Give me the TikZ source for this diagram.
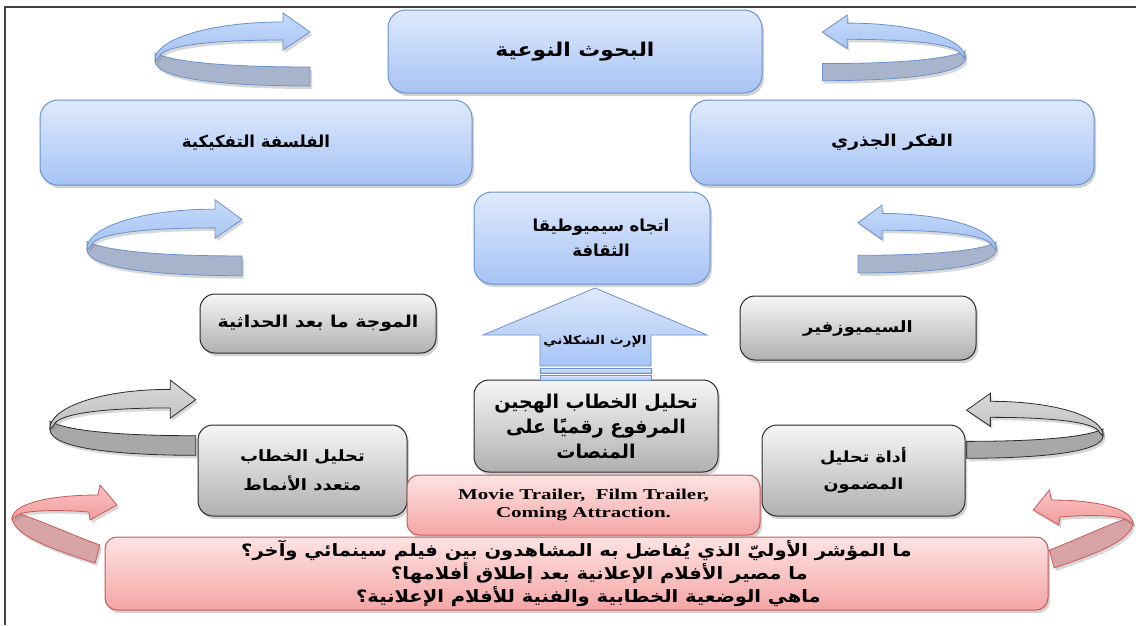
\documentclass[tikz,border=0pt]{standalone}
\usepackage{fontspec}
\setmainfont{Liberation Serif}[FakeStretch=1.4]
\newfontfamily\arabicfont[Script=Arabic]{DejaVu Sans}
\newfontfamily\arabicwide[Script=Arabic,FakeStretch=1.15]{DejaVu Sans}
\TeXXeTstate=1
\usetikzlibrary{shadows}
\definecolor{bluebd}{HTML}{6B92CC}
\definecolor{bluetop}{HTML}{DFE9FC}
\definecolor{bluebot}{HTML}{A6C4F5}
\definecolor{graybd}{HTML}{2B2B2B}
\definecolor{graytop}{HTML}{F6F6F6}
\definecolor{graybot}{HTML}{B0B0B0}
\definecolor{pinkbd}{HTML}{C85A5A}
\definecolor{pinktop}{HTML}{FDE3E3}
\definecolor{pinkbot}{HTML}{F5A5A5}
\definecolor{rblue1}{HTML}{C6DAFA}
\definecolor{rblue2}{HTML}{A3C1F3}
\definecolor{rbluedark}{HTML}{A7B4CB}
\definecolor{rgray1}{HTML}{DADADA}
\definecolor{rgray2}{HTML}{BDBDBD}
\definecolor{rgraydark}{HTML}{A8A8A8}
\definecolor{rpink1}{HTML}{FAC4C4}
\definecolor{rpink2}{HTML}{F29C9C}
\definecolor{rpinkdark}{HTML}{D7A3A6}
\definecolor{framecol}{HTML}{404040}
\newcommand\arsize[1]{\arabicwide\bfseries\fontsize{#1}{25}\selectfont}
\newcommand\arplain[1]{\arabicfont\bfseries\fontsize{#1}{25}\selectfont}
\begin{document}
\begin{tikzpicture}[x=1pt,y=-1pt,
  boxbase/.style={line width=1pt, inner sep=0pt, align=center,
    drop shadow={opacity=0.35, shadow xshift=2pt, shadow yshift=-3pt}},
  bluebox/.style={boxbase, draw=bluebd, rounded corners=18pt, top color=bluetop, bottom color=bluebot},
  graybox/.style={boxbase, draw=graybd, rounded corners=15pt, top color=graytop, bottom color=graybot},
  pinkbox/.style={boxbase, draw=pinkbd, rounded corners=12pt, top color=pinktop, bottom color=pinkbot},
  ribshadow/.style={drop shadow={opacity=0.3, shadow xshift=2pt, shadow yshift=-3pt}},
  blue ribbon/.style={rlight/.style={draw=bluebd, line width=0.8pt, top color=rblue1, bottom color=rblue2, ribshadow},
                      rdark/.style={draw=bluebd, line width=0.8pt, fill=rbluedark, ribshadow}},
  gray ribbon/.style={rlight/.style={draw=graybd, line width=0.8pt, top color=rgray1, bottom color=rgray2, ribshadow},
                      rdark/.style={draw=graybd, line width=0.8pt, fill=rgraydark, ribshadow}},
  pink ribbon/.style={rlight/.style={draw=pinkbd, line width=0.8pt, top color=rpink1, bottom color=rpink2, ribshadow},
                      rdark/.style={draw=pinkbd, line width=0.8pt, fill=rpinkdark, ribshadow}},
  ribbon/.pic={
    \path[rdark] (0,10) .. controls (20,20) and (80,24) .. (155,24) -- (155,43) .. controls (70,43) and (0,36) .. (0,18) -- cycle;
    \path[rlight] (0,18) .. controls (-2,-2) and (50,-21) .. (128,-21) -- (128,-30) -- (155,-11) -- (128,7) -- (128,-3) .. controls (60,-3) and (8,2) .. (4,14) -- cycle;
  },
  pribbon/.pic={
    \path[rdark] (5,6) .. controls (30,14) and (65,30) .. (88,38) -- (83,56) .. controls (50,45) and (0,30) .. (0,10) -- cycle;
    \path[rlight] (0,12) .. controls (0,-4) and (40,-12) .. (86,-12) -- (88,-22) -- (105,-2) -- (78,13) -- (77,5) .. controls (40,2) and (12,4) .. (6,8) -- cycle;
  },
  uparrowstyle/.style={draw=bluebd, line width=0.8pt, top color=bluetop, bottom color=bluebot}
]
\useasboundingbox (0,0) rectangle (1136,625);
\fill[white] (0,0) rectangle (1136,625);
\draw[framecol, line width=1.4pt] (5,625) -- (5,7) -- (1136,7);

% curved ribbon arrows
\pic[blue ribbon] at (155,43) {ribbon};
\pic[blue ribbon, xscale=-0.92, yscale=0.9] at (965,42) {ribbon};
\pic[blue ribbon, yscale=1.04] at (87,231) {ribbon};
\pic[blue ribbon, xscale=-0.89, yscale=0.93] at (996,233) {ribbon};
\pic[gray ribbon, xscale=0.94, yscale=1.03] at (50,411) {ribbon};
\pic[gray ribbon, xscale=-0.88, yscale=0.89] at (1103,420) {ribbon};
\pic[pink ribbon] at (12,507) {pribbon};
\pic[pink ribbon, xscale=-0.95] at (1133,512) {pribbon};

% blue boxes
\node[bluebox, minimum width=374pt, minimum height=83pt, font=\arsize{19}] (b1) at (575,51.5) {\beginR البحوث النوعية\endR};
\node[bluebox, minimum width=432pt, minimum height=85pt, font=\arplain{16.5}] (b2) at (256,142.5) {\beginR الفلسفة التفكيكية\endR};
\node[bluebox, minimum width=404pt, minimum height=85pt, font=\arsize{16.3}] (b3) at (892,142.5) {\beginR الفكر الجذري\endR};
\node[bluebox, minimum width=236pt, minimum height=92pt, font=\arplain{16.5}] (b4) at (592,238)
  {\hspace*{18pt}\beginR اتجاه سيميوطيقا\endR\\\hspace*{18pt}\beginR الثقافة\endR};

% gray boxes
\node[graybox, minimum width=236pt, minimum height=59pt, font=\arsize{16.4}] (g5) at (318,323.5) {\beginR الموجة ما بعد الحداثية\endR};
\node[graybox, minimum width=236pt, minimum height=64pt, font=\arsize{15.6}] (g6) at (858,328) {\beginR السيميوزفير\endR};
\node[graybox, minimum width=244pt, minimum height=92pt, font=\arplain{19}] (g8) at (596,426)
  {\beginR تحليل الخطاب الهجين\endR\\\beginR المرفوع رقميًا على\endR\\\beginR المنصات\endR};
\node[graybox, minimum width=209pt, minimum height=91pt, font=\arabicwide\bfseries\fontsize{15.6}{29}\selectfont] (g9) at (302.5,470.5) {\beginR تحليل الخطاب\endR\\\beginR متعدد الأنماط\endR};
\node[graybox, minimum width=203pt, minimum height=91pt, font=\arabicwide\bfseries\fontsize{15.3}{27}\selectfont] (g10) at (863.5,470.5) {\beginR أداة تحليل\endR\\\beginR المضمون\endR};

% up arrow
\path[uparrowstyle] (540,366) -- (540,335) -- (483,335) -- (595,288) -- (707,335) -- (651,335) -- (651,366) -- cycle;
\path[uparrowstyle] (540,368) rectangle (651,373);
\path[uparrowstyle] (540,375) rectangle (651,380);
\node[font=\arsize{12}] (heritage) at (595,341) {\beginR الإرث الشكلاني\endR};

% pink boxes
\node[pinkbox, minimum width=353pt, minimum height=60pt, font=\bfseries\fontsize{15}{18}\selectfont] (p11) at (583.5,505)
  {Movie Trailer,\ \ Film Trailer,\\Coming Attraction.};
\node[pinkbox, minimum width=943pt, minimum height=73pt, font=\arabicwide\bfseries\fontsize{17}{23}\selectfont] (p12) at (576.5,573.5)
  {\beginR ما المؤشر الأوليّ الذي يُفاضل به المشاهدون بين فيلم سينمائي وآخر؟\endR\\
   \hspace*{46pt}\beginR ما مصير الأفلام الإعلانية بعد إطلاق أفلامها؟\endR\\
   \hspace*{24pt}\beginR ماهي الوضعية الخطابية والفنية للأفلام الإعلانية؟\endR};
\end{tikzpicture}
\end{document}
